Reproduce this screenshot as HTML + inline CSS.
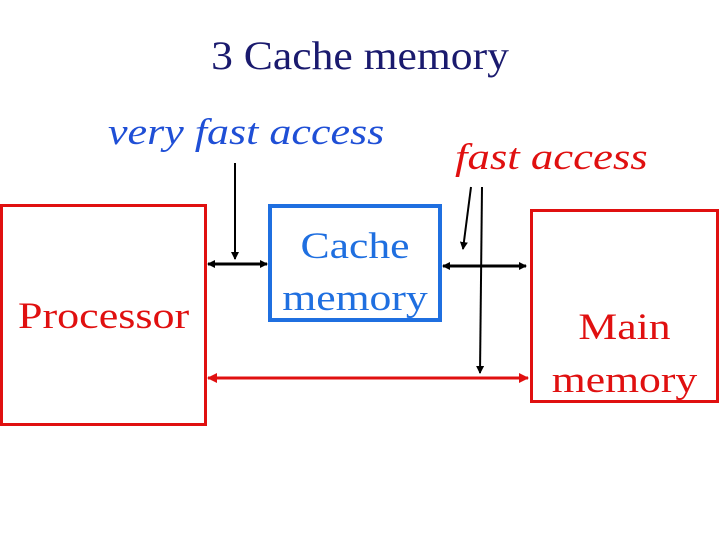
<!DOCTYPE html>
<html><head><style>
body{margin:0;width:720px;height:540px;background:#fff;position:relative;overflow:hidden;font-family:"Liberation Serif",serif}
.t{position:absolute;white-space:nowrap;line-height:1}
.s{transform:scaleX(1.19);transform-origin:left top}
.c{transform:scaleX(1.18);transform-origin:center top}
</style></head><body>
<div class="t" style="left:0;width:720px;text-align:center;top:36px;font-size:40px;color:#1a1a6e;transform:scaleX(1.09);transform-origin:center top">3 Cache memory</div>
<div class="t s" style="left:108px;top:114px;font-size:37px;font-style:italic;color:#1f4fd6">very fast access</div>
<div class="t s" style="left:455px;top:139px;font-size:37px;font-style:italic;color:#e01010;transform:scaleX(1.21)">fast access</div>
<svg width="720" height="540" style="position:absolute;left:0;top:0">
<defs>
<marker id="b" markerWidth="8" markerHeight="8" refX="7" refY="4" orient="auto-start-reverse" markerUnits="userSpaceOnUse"><path d="M0,0L8,4L0,8z" fill="#000"/></marker>
<marker id="r" markerWidth="10" markerHeight="10" refX="9" refY="5" orient="auto-start-reverse" markerUnits="userSpaceOnUse"><path d="M0,0L10,5L0,10z" fill="#e01010"/></marker>
</defs>
<rect x="1.5" y="205.5" width="204" height="219" fill="none" stroke="#e01010" stroke-width="3"/>
<rect x="270" y="206" width="170" height="114" fill="none" stroke="#1f6fe0" stroke-width="4"/>
<rect x="531.5" y="210.5" width="186" height="191" fill="none" stroke="#e01010" stroke-width="3"/>
<line x1="208" y1="264" x2="267" y2="264" stroke="#000" stroke-width="3" marker-start="url(#b)" marker-end="url(#b)"/>
<line x1="443" y1="266" x2="526" y2="266" stroke="#000" stroke-width="3" marker-start="url(#b)" marker-end="url(#b)"/>
<line x1="235" y1="163" x2="235" y2="259" stroke="#000" stroke-width="2" marker-end="url(#b)"/>
<line x1="471" y1="187" x2="463" y2="249" stroke="#000" stroke-width="2" marker-end="url(#b)"/>
<line x1="482" y1="187" x2="480" y2="373" stroke="#000" stroke-width="2" marker-end="url(#b)"/>
<line x1="208" y1="378" x2="528" y2="378" stroke="#e01010" stroke-width="3" marker-start="url(#r)" marker-end="url(#r)"/>
</svg>
<div class="t s" style="left:18px;top:298px;font-size:37px;color:#e01010">Processor</div>
<div class="t c" style="left:270px;width:170px;text-align:center;top:221px;font-size:37px;line-height:52px;color:#1f6fe0">Cache<br>memory</div>
<div class="t c" style="left:531px;width:187px;text-align:center;top:301px;font-size:37px;line-height:53px;color:#e01010">Main<br>memory</div>
</body></html>
